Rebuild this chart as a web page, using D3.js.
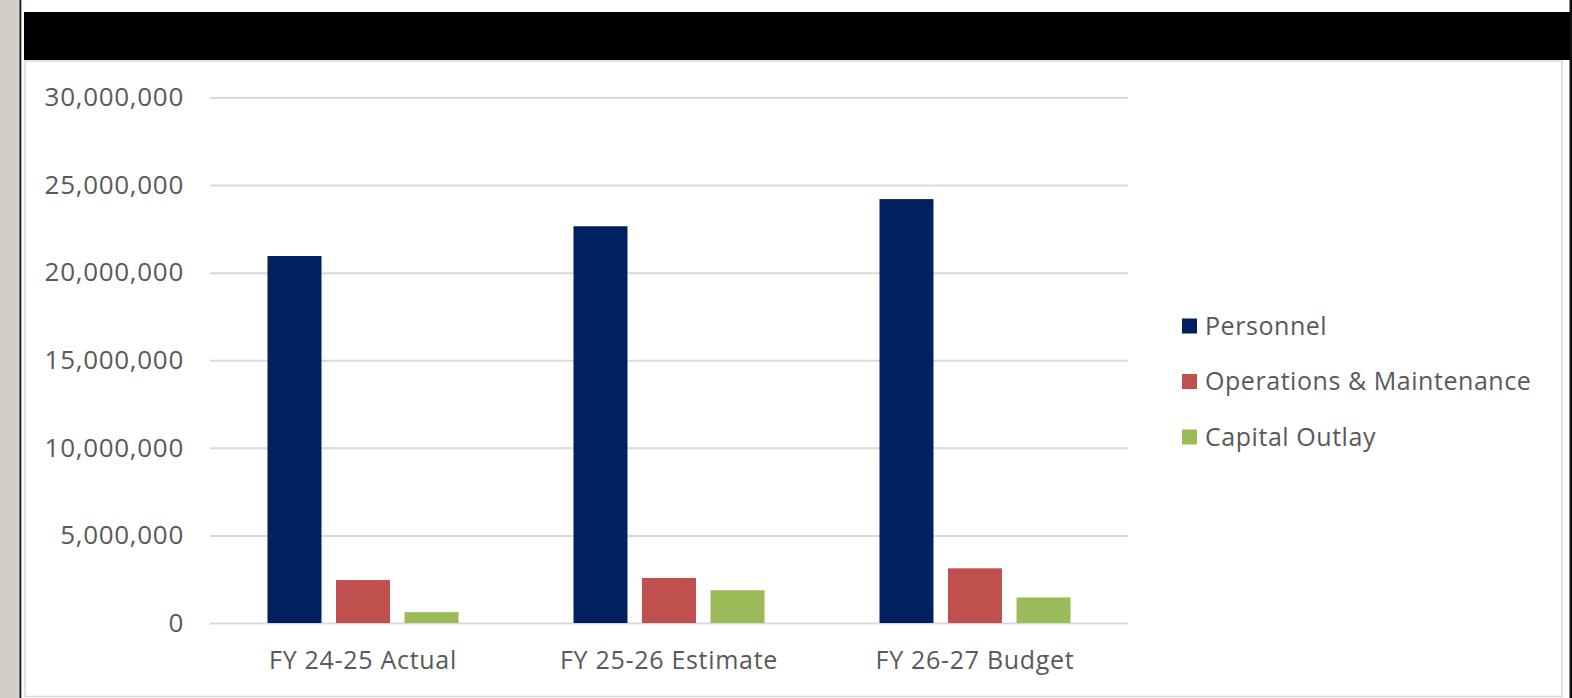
<!DOCTYPE html>
<html>
<head>
<meta charset="utf-8">
<script src="https://cdn.jsdelivr.net/npm/d3@7"></script>
<style>
  html, body { margin: 0; padding: 0; background: #ffffff; }
  svg { display: block; }
  text { font-family: "Open Sans", "Liberation Sans", sans-serif; fill: #595959; }
</style>
</head>
<body>
<script>
// ---- data ----
const categories = ["FY 24-25 Actual", "FY 25-26 Estimate", "FY 26-27 Budget"];
const seriesNames = ["Personnel", "Operations & Maintenance", "Capital Outlay"];
const personnel = [20950000, 22650000, 24200000];
const operations = [2450000, 2570000, 3120000];
const capital = [620000, 1870000, 1460000];
const tickValues = [0, 5000000, 10000000, 15000000, 20000000, 25000000, 30000000];
const seriesColors = ["#002060", "#C0504D", "#9BBB59"];

const seriesValues = [personnel, operations, capital];
const rows = categories.map((c, i) => ({
  category: c,
  values: seriesNames.map((s, j) => ({ series: s, value: seriesValues[j][i] }))
}));

const W = 1572, H = 698;
const svg = d3.select("body").append("svg").attr("width", W).attr("height", H);

// page frame
svg.append("rect").attr("x", 0).attr("y", 0).attr("width", 19.5).attr("height", H).attr("fill", "#d4cfc4");
svg.append("rect").attr("x", 19.5).attr("y", 0).attr("width", 1.8).attr("height", H).attr("fill", "#111");
svg.append("rect").attr("x", 1569.5).attr("y", 0).attr("width", 2.5).attr("height", H).attr("fill", "#111");
// header bar
svg.append("rect").attr("x", 24).attr("y", 12).attr("width", 1546).attr("height", 48).attr("fill", "#000");
// chart area border
svg.append("rect").attr("x", 25).attr("y", 61).attr("width", 1537).attr("height", 635.5)
  .attr("fill", "#fff").attr("stroke", "#d9d9d9").attr("stroke-width", 1.5);

// plot
const plot = { left: 210, right: 1128, top: 97.5, bottom: 623 };
const y = d3.scaleLinear().domain([0, 30000000]).range([plot.bottom, plot.top]);
const x0 = d3.scaleBand().domain(categories).range([plot.left, plot.right]).padding(0);
const groupW = 191;
const x1 = d3.scaleBand().domain(seriesNames)
  .range([(x0.bandwidth() - groupW) / 2, (x0.bandwidth() + groupW) / 2])
  .paddingInner(0.212).paddingOuter(0);
const color = d3.scaleOrdinal().domain(seriesNames).range(seriesColors);

// y axis with gridlines
const yAxis = d3.axisLeft(y).tickValues(tickValues).tickFormat(d3.format(","))
  .tickSize(-(plot.right - plot.left)).tickPadding(26);
const gy = svg.append("g").attr("transform", `translate(${plot.left},0)`).call(yAxis);
gy.select(".domain").remove();
gy.selectAll(".tick line").attr("stroke", "#d9d9d9").attr("stroke-width", 2);
gy.selectAll(".tick text").attr("font-size", 26).attr("fill", "#595959")
  .attr("letter-spacing", 0.7)
  .style("font-family", '"Open Sans", sans-serif');

// bars
const groups = svg.append("g").selectAll("g").data(rows).join("g")
  .attr("transform", d => `translate(${x0(d.category)},0)`);
groups.selectAll("rect").data(d => d.values).join("rect")
  .attr("x", d => x1(d.series))
  .attr("width", x1.bandwidth())
  .attr("y", d => y(d.value))
  .attr("height", d => y(0) - y(d.value))
  .attr("fill", d => color(d.series));

// x axis labels
const xAxis = d3.axisBottom(x0).tickSize(0).tickPadding(28);
const gx = svg.append("g").attr("transform", `translate(0,${plot.bottom})`).call(xAxis);
gx.select(".domain").remove();
gx.selectAll(".tick text").attr("font-size", 25).attr("fill", "#595959")
  .attr("letter-spacing", 0.7)
  .style("font-family", '"Open Sans", sans-serif');

// legend
const legend = svg.append("g").attr("transform", "translate(1182,0)");
const legendY = d3.scalePoint().domain(seriesNames).range([326, 437]);
const li = legend.selectAll("g").data(seriesNames).join("g")
  .attr("transform", d => `translate(0,${legendY(d)})`);
li.append("rect").attr("x", 0).attr("y", -7.5).attr("width", 15).attr("height", 15)
  .attr("fill", d => color(d));
li.append("text").attr("x", 23).attr("dy", "0.35em").attr("font-size", 25)
  .attr("letter-spacing", 0.55).text(d => d);
</script>
</body>
</html>
